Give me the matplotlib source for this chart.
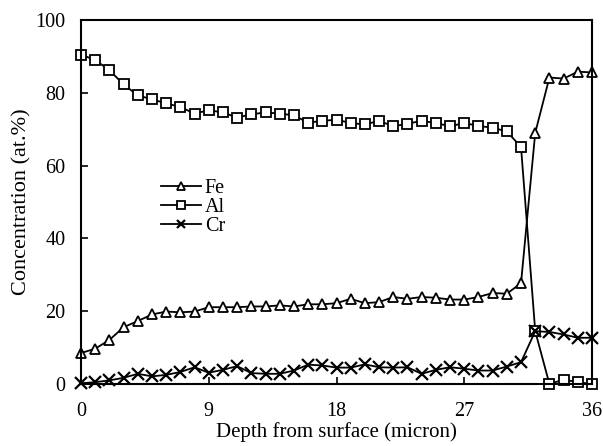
import numpy as np
import matplotlib.pyplot as plt

plt.rcParams['font.family'] = ['Liberation Serif', 'DejaVu Serif']

# depth (micron), one reading per micron
depth = list(range(0, 37))

fe = [8.5, 9.7, 12.1, 15.6, 17.3, 19.1, 19.9, 19.7, 19.9, 21.1,
      21.1, 21.1, 21.3, 21.3, 21.6, 21.3, 21.9, 21.9, 22.2, 23.4,
      22.2, 22.5, 23.9, 23.4, 23.9, 23.7, 23.2, 23.2, 23.9, 25.0,
      24.8, 27.7, 69.0, 84.2, 83.9, 85.8, 85.6]

al = [90.5, 89.0, 86.2, 82.3, 79.3, 78.2, 77.1, 76.1, 74.3, 75.2,
      74.6, 73.2, 74.1, 74.6, 74.3, 73.8, 71.8, 72.3, 72.6, 71.7,
      71.3, 72.3, 70.8, 71.5, 72.3, 71.7, 70.8, 71.7, 70.9, 70.4,
      69.4, 65.1, 14.5, 0.0, 1.2, 0.5, 0.0]

cr = [0.2, 0.5, 1.0, 1.7, 2.8, 2.1, 2.5, 3.3, 4.6, 3.1,
      3.9, 4.9, 3.0, 2.8, 2.8, 3.7, 5.3, 5.1, 4.5, 4.5,
      5.4, 4.6, 4.5, 4.6, 2.8, 3.9, 4.6, 4.2, 3.7, 3.7,
      4.8, 6.0, 14.5, 14.3, 13.6, 12.7, 12.7]

fig = plt.figure(figsize=(6.03, 4.46), dpi=100)
ax = fig.add_axes([81/603, 1 - 384/446, 511/603, 364/446])

kw = dict(color='black', lw=1.3, ms=7, mew=1.3, clip_on=False)
ax.plot(depth, fe, marker='^', mfc='white', label='Fe', **kw)
ax.plot(depth, al, marker='s', mfc='white', label='Al', **kw)
ax.plot(depth, cr, marker='x', ms=8, lw=1.3, mew=1.6, color='black',
        clip_on=False, label='Cr')

ax.set_xlim(0, 36)
ax.set_ylim(0, 100)
ax.set_xticks([0, 9, 18, 27, 36])
ax.set_yticks([0, 20, 40, 60, 80, 100])
ax.tick_params(direction='in', length=5, width=1.2, labelsize=14.5)
ax.tick_params(axis='x', pad=13)
ax.tick_params(axis='y', pad=11)
for s in ax.spines.values():
    s.set_linewidth(1.5)

ax.set_xlabel('Depth from surface (micron)', fontsize=15, labelpad=0.5)
ax.set_ylabel('Concentration (at.%)', fontsize=16, labelpad=3)

ax.legend(loc='upper left', bbox_to_anchor=(0.14, 0.585), frameon=False,
          fontsize=14.5, handlelength=2.0, handletextpad=0.2, labelspacing=0.0,
          borderaxespad=0, markerscale=0.8)

fig.savefig('out.png', dpi=100)
